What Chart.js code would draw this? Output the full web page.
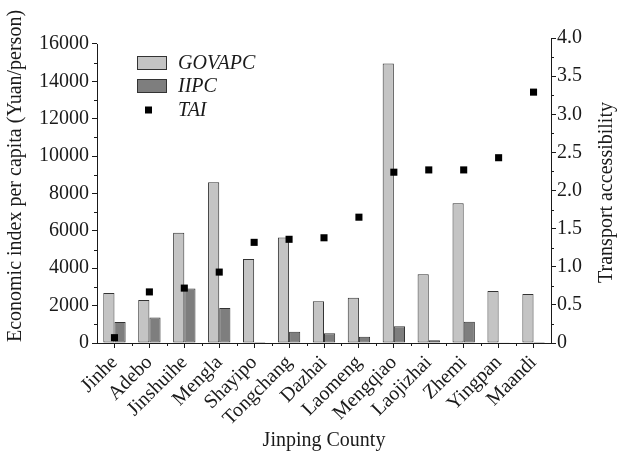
<!DOCTYPE html>
<html>
<head>
<meta charset="utf-8">
<script src="https://cdn.jsdelivr.net/npm/chart.js@4"></script>
<style>
  body { margin: 0; background: #fff; }
</style>
</head>
<body>
<canvas id="ecoChart" width="621" height="457"></canvas>
<script>
var towns = ["Jinhe", "Adebo", "Jinshuihe", "Mengla", "Shayipo", "Tongchang", "Dazhai",
             "Laomeng", "Mengqiao", "Laojizhai", "Zhemi", "Yingpan", "Maandi"];
var govapc = [2680, 2300, 5900, 8600, 4490, 5650, 2230, 2420, 14950, 3680, 7480, 2780, 2620];
var iipc = [1130, 1370, 2920, 1870, 50, 600, 520, 330, 900, 150, 1140, 40, 60];
var tai = [0.07, 0.67, 0.72, 0.93, 1.32, 1.36, 1.38, 1.65, 2.24, 2.27, 2.27, 2.43, 3.29];
var leftTicks = [0, 2000, 4000, 6000, 8000, 10000, 12000, 14000, 16000];

var serif = "'Liberation Serif', 'DejaVu Serif', serif";
var ink = "#1a1a1a";

// minor ticks, left axis line, vertical titles and legend (Origin style)
var axisExtras = {
    id: "axisExtras",
    afterDraw: function(chart) {
        var c = chart.ctx;
        var y = chart.scales.y, y1 = chart.scales.y1, x = chart.scales.x;
        var area = chart.chartArea;
        c.save();
        c.strokeStyle = ink;
        c.lineWidth = 1;
        c.beginPath();
        // left axis line only up to 16000
        c.moveTo(area.left + 0.5, y.getPixelForValue(0));
        c.lineTo(area.left + 0.5, y.getPixelForValue(16000));
        for (var v = 1000; v < 16000; v += 2000) {
            var py = Math.round(y.getPixelForValue(v)) + 0.5;
            c.moveTo(area.left, py);
            c.lineTo(area.left - 3, py);
        }
        for (var w = 0.25; w < 4; w += 0.5) {
            var py1 = Math.round(y1.getPixelForValue(w)) + 0.5;
            c.moveTo(area.right, py1);
            c.lineTo(area.right + 3, py1);
        }
        for (var i = 0; i < towns.length - 1; i++) {
            var px = Math.round((x.getPixelForValue(i) + x.getPixelForValue(i + 1)) / 2) + 0.5;
            c.moveTo(px, area.bottom);
            c.lineTo(px, area.bottom + 3);
        }
        c.stroke();

        // axis titles, both reading bottom to top
        c.font = "20px " + serif;
        c.fillStyle = ink;
        c.textAlign = "center";
        c.textBaseline = "middle";
        c.save();
        c.translate(16, 176);
        c.rotate(-Math.PI / 2);
        c.fillText("Economic index per capita (Yuan/person)", 0, 0);
        c.restore();
        c.save();
        c.translate(607, (area.top + area.bottom) / 2 + 2);
        c.rotate(-Math.PI / 2);
        c.fillText("Transport accessibility", 0, 0);
        c.restore();

        // legend inside plot
        var rows = [63, 86, 110];
        var sets = chart.data.datasets;
        c.font = "italic 20px " + serif;
        c.textAlign = "left";
        for (var k = 0; k < sets.length; k++) {
            var ds = sets[k];
            if (ds.type === "line") {
                c.fillStyle = ds.backgroundColor;
                c.fillRect(148.5 - 3.5, rows[k] - 3.5, 7, 7);
            } else {
                c.fillStyle = ds.backgroundColor;
                c.fillRect(137, rows[k] - 7, 30, 14);
                c.strokeStyle = ds.borderColor;
                c.strokeRect(137.5, rows[k] - 6.5, 29, 13);
            }
            c.fillStyle = ink;
            c.fillText(ds.label, 178, rows[k] + 1);
        }
        c.restore();
    }
};

var ctx = document.getElementById("ecoChart");

var ecoChart = new Chart(ctx, {
    type: "bar",
    data: {
        labels: towns,
        datasets: [
            {
                label: "GOVAPC",
                data: govapc,
                backgroundColor: "#c4c4c4",
                borderColor: "#333",
                borderWidth: 1,
                borderSkipped: false,
                yAxisID: "y",
                order: 2
            },
            {
                label: "IIPC",
                data: iipc,
                backgroundColor: "#7e7e7e",
                borderColor: "#333",
                borderWidth: 1,
                borderSkipped: false,
                yAxisID: "y",
                order: 2
            },
            {
                type: "line",
                label: "TAI",
                data: tai,
                showLine: false,
                pointStyle: "rect",
                pointRadius: 5,
                pointBorderWidth: 0,
                backgroundColor: "#000",
                borderColor: "#000",
                yAxisID: "y1",
                order: 0
            }
        ]
    },
    options: {
        responsive: false,
        animation: false,
        devicePixelRatio: 1,
        datasets: {
            bar: { categoryPercentage: 0.64, barPercentage: 1.0 }
        },
        layout: { padding: { top: 38, left: 0, right: 0, bottom: 0 } },
        plugins: {
            legend: { display: false },
            tooltip: { enabled: false }
        },
        scales: {
            x: {
                offset: true,
                grid: { display: true, offset: false, drawOnChartArea: false, tickLength: 5, color: ink },
                border: { color: ink },
                ticks: {
                    font: { family: serif, size: 20 }, color: ink,
                    minRotation: 45, maxRotation: 45, padding: 3, autoSkip: false
                },
                title: { display: true, text: "Jinping County", font: { family: serif, size: 20 }, color: ink },
                afterFit: function(s) { s.height = 114; }
            },
            y: {
                position: "left",
                min: 0,
                max: 16320,
                afterBuildTicks: function(s) {
                    s.ticks = leftTicks.map(function(v) { return { value: v }; });
                },
                grid: { display: true, drawOnChartArea: false, tickLength: 5, color: ink },
                border: { display: false },
                ticks: {
                    font: { family: serif, size: 20 }, color: ink, padding: 3,
                    callback: function(v) { return String(v); }
                },
                afterFit: function(s) { s.width = 97; }
            },
            y1: {
                position: "right",
                min: 0,
                max: 4,
                grid: { display: true, drawOnChartArea: false, tickLength: 5, color: ink },
                border: { color: ink },
                ticks: {
                    stepSize: 0.5, font: { family: serif, size: 20 }, color: ink, padding: 1,
                    callback: function(v) { return v === 0 ? "0" : v.toFixed(1); }
                },
                afterFit: function(s) { s.width = 70; }
            }
        }
    },
    plugins: [axisExtras]
});
</script>
</body>
</html>
